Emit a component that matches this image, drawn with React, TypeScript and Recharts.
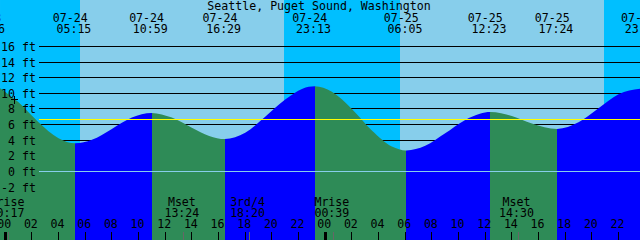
import React from "react";
import {
  ComposedChart,
  Area,
  XAxis,
  YAxis,
  ReferenceArea,
  ReferenceLine,
  ReferenceDot,
} from "recharts";

const TITLE = "Seattle, Puget Sound, Washington";

// hours counted from 07-24 00:00
const T_START = -0.39;
const T_END = 47.61;
const FT_MIN = -8.77;
const FT_MAX = 21.95;

const TIDE_HOURS = [
  -0.39, 1, 2.5, 4, 5.25, 6.5, 8, 9.5, 10.98, 12.5, 14, 15.3, 16.48, 18, 19.5,
  21, 22.3, 23.22, 24.5, 26, 27.5, 29, 30.08, 31.5, 33, 34.5, 35.6, 36.38, 38,
  39.5, 41.4, 43, 44.5, 46, 47.61,
];
const TIDE_FT = [
  10.65, 8.85, 6.3, 4.25, 3.6, 4.05, 5.45, 6.9, 7.5, 6.9, 5.6, 4.55, 4.15, 4.95,
  7.0, 9.2, 10.6, 10.9, 10.2, 8.0, 5.25, 3.2, 2.7, 3.3, 4.9, 6.6, 7.4, 7.6, 7.1,
  6.15, 5.45, 6.3, 8.1, 9.9, 10.6,
];

const EVENT_HOURS = [-1.23, 5.25, 10.98, 16.48, 23.22, 30.08, 36.38, 41.4, 47.87];
const EVENT_DATES = ["07-23", "07-24", "07-24", "07-24", "07-24", "07-25", "07-25", "07-25", "07-25"];
const EVENT_TIMES = ["22:46", "05:15", "10:59", "16:29", "23:13", "06:05", "12:23", "17:24", "23:52"];

const MOON_HOURS = [0.28, 13.4, 18.33, 24.65, 38.5];
const MOON_NAMES = ["Mrise", "Mset", "3rd/4", "Mrise", "Mset"];
const MOON_TIMES = ["00:17", "13:24", "18:20", "00:39", "14:30"];

// sunrise, sunset, sunrise, sunset
const SUN_HOURS = [5.61, 20.91, 29.61, 44.91];

const HOUR_TICKS = [
  0, 2, 4, 6, 8, 10, 12, 14, 16, 18, 20, 22, 24, 26, 28, 30, 32, 34, 36, 38, 40,
  42, 44, 46,
];
const FT_TICKS = [-2, 0, 2, 4, 6, 8, 10, 12, 14, 16];
const MEAN_FT = 6.6;
const GRID_FROM = 2.535;
const NOW_HOUR = 0.66;
const NOW_FT = 9.2;

const NIGHT = "#00bfff";
const DAY = "#87ceeb";
const FALLING = "#2e8b57";
const RISING = "#0000ff";

const FONT = { fontFamily: "'DejaVu Sans Mono', monospace", fontSize: 11.6 };
const THIN = 0.01; // axes need a non-zero size to draw their ticks

const data = TIDE_HOURS.map((t, i) => ({ t, ft: TIDE_FT[i] }));

const bounds = [T_START, ...SUN_HOURS, T_END];
const bands = bounds.slice(0, -1).map((b, i) => ({
  x1: b,
  x2: bounds[i + 1],
  fill: i % 2 === 0 ? NIGHT : DAY,
}));

// hard colour switch at each high / low water
function tideStops() {
  const span = T_END - T_START;
  let color = TIDE_FT[1] < TIDE_FT[0] ? FALLING : RISING;
  const stops = [{ offset: 0, color }];
  for (let i = 1; i < TIDE_FT.length - 1; i++) {
    const a = TIDE_FT[i] - TIDE_FT[i - 1];
    const b = TIDE_FT[i + 1] - TIDE_FT[i];
    if (a * b < 0) {
      const offset = (TIDE_HOURS[i] - TIDE_HOURS[0]) / span;
      stops.push({ offset, color });
      color = color === FALLING ? RISING : FALLING;
      stops.push({ offset, color });
    }
  }
  stops.push({ offset: 1, color });
  return stops;
}

const HourTick = ({ x, payload }: any) => {
  const hh = ((payload.value % 24) + 24) % 24;
  return (
    <g>
      <text x={x - 1} y={228} textAnchor="middle" fill="#000" style={FONT}>
        {String(hh).padStart(2, "0")}
      </text>
      <line
        x1={x}
        x2={x}
        y1={232}
        y2={240}
        stroke="#000"
        strokeWidth={hh === 0 ? 3 : 1}
        shapeRendering="crispEdges"
      />
    </g>
  );
};

const MoonTick = ({ x, payload }: any) => {
  const i = MOON_HOURS.indexOf(payload.value);
  return (
    <g>
      <line x1={x} x2={x} y1={232} y2={240} stroke="#666" strokeWidth={1} shapeRendering="crispEdges" />
      <text x={x - 2} y={205.5} textAnchor="middle" fill="#000" style={FONT}>
        {MOON_NAMES[i]}
      </text>
      <text x={x - 2} y={216.5} textAnchor="middle" fill="#000" style={FONT}>
        {MOON_TIMES[i]}
      </text>
    </g>
  );
};

const EventTick = ({ x, payload }: any) => {
  const i = EVENT_HOURS.indexOf(payload.value);
  return (
    <g>
      <text x={x - 5} y={22} textAnchor="middle" fill="#000" style={FONT}>
        {EVENT_DATES[i]}
      </text>
      <text x={x - 1.3} y={33} textAnchor="middle" fill="#000" style={FONT}>
        {EVENT_TIMES[i]}
      </text>
    </g>
  );
};

const FtTick = ({ y, payload }: any) => (
  <text x={36} y={y + 4.5} textAnchor="end" fill="#000" style={FONT}>
    {`${payload.value} ft`}
  </text>
);

const NowMark = ({ cx, cy }: any) => (
  <g stroke="#000" strokeWidth={1} shapeRendering="crispEdges">
    <line x1={cx - 3} x2={cx + 4} y1={cy} y2={cy} />
    <line x1={cx} x2={cx} y1={cy - 4} y2={cy + 4} />
  </g>
);

const Title = () => (
  <text x={319} y={10} textAnchor="middle" fill="#000" style={FONT}>
    {TITLE}
  </text>
);

export default function App() {
  const stops = tideStops();
  return (
    <div style={{ position: "absolute", left: 0, top: 0, width: 640, height: 240 }}>
      <ComposedChart
        width={640}
        height={240}
        data={data}
        margin={{ top: 0, right: 0, bottom: 0, left: 0 }}
      >
        <defs>
          <linearGradient id="tideFill" x1="0" y1="0" x2="1" y2="0">
            {stops.map((s, i) => (
              <stop key={i} offset={s.offset} stopColor={s.color} />
            ))}
          </linearGradient>
        </defs>
        {bands.map((b, i) => (
          <ReferenceArea
            key={`band${i}`}
            x1={b.x1}
            x2={b.x2}
            y1={FT_MIN}
            y2={FT_MAX}
            fill={b.fill}
            fillOpacity={1}
            stroke="none"
            zIndex={10}
          />
        ))}
        {FT_TICKS.filter((v) => v !== 0).map((v) => (
          <ReferenceLine
            key={`grid${v}`}
            segment={[
              { x: GRID_FROM, y: v },
              { x: T_END, y: v },
            ]}
            stroke="#000"
            strokeWidth={1}
            shapeRendering="crispEdges"
            zIndex={20}
          />
        ))}
        <Area
          dataKey="ft"
          type="monotone"
          baseValue="dataMin"
          fill="url(#tideFill)"
          fillOpacity={1}
          stroke="none"
          isAnimationActive={false}
          zIndex={30}
        />
        <ReferenceLine
          segment={[
            { x: GRID_FROM, y: 0 },
            { x: T_END, y: 0 },
          ]}
          stroke={DAY}
          strokeWidth={1}
          shapeRendering="crispEdges"
          zIndex={40}
        />
        <ReferenceLine
          segment={[
            { x: GRID_FROM, y: MEAN_FT },
            { x: T_END, y: MEAN_FT },
          ]}
          stroke="#ffff00"
          strokeWidth={1}
          shapeRendering="crispEdges"
          zIndex={40}
        />
        <ReferenceDot x={NOW_HOUR} y={NOW_FT} shape={<NowMark />} zIndex={50} />
        <XAxis
          dataKey="t"
          type="number"
          domain={[T_START, T_END]}
          allowDataOverflow
          ticks={HOUR_TICKS}
          interval={0}
          height={THIN}
          axisLine={false}
          tickLine={false}
          tick={<HourTick />}
        />
        <XAxis
          xAxisId="moon"
          dataKey="t"
          type="number"
          domain={[T_START, T_END]}
          allowDataOverflow
          ticks={MOON_HOURS}
          interval={0}
          height={THIN}
          axisLine={false}
          tickLine={false}
          tick={<MoonTick />}
        />
        <XAxis
          xAxisId="events"
          dataKey="t"
          orientation="top"
          type="number"
          domain={[T_START, T_END]}
          allowDataOverflow
          ticks={EVENT_HOURS}
          interval={0}
          height={THIN}
          axisLine={false}
          tickLine={false}
          tick={<EventTick />}
          label={<Title />}
        />
        <YAxis
          type="number"
          domain={[FT_MIN, FT_MAX]}
          allowDataOverflow
          ticks={FT_TICKS}
          interval={0}
          width={THIN}
          axisLine={false}
          tickLine={false}
          tick={<FtTick />}
        />
      </ComposedChart>
    </div>
  );
}
